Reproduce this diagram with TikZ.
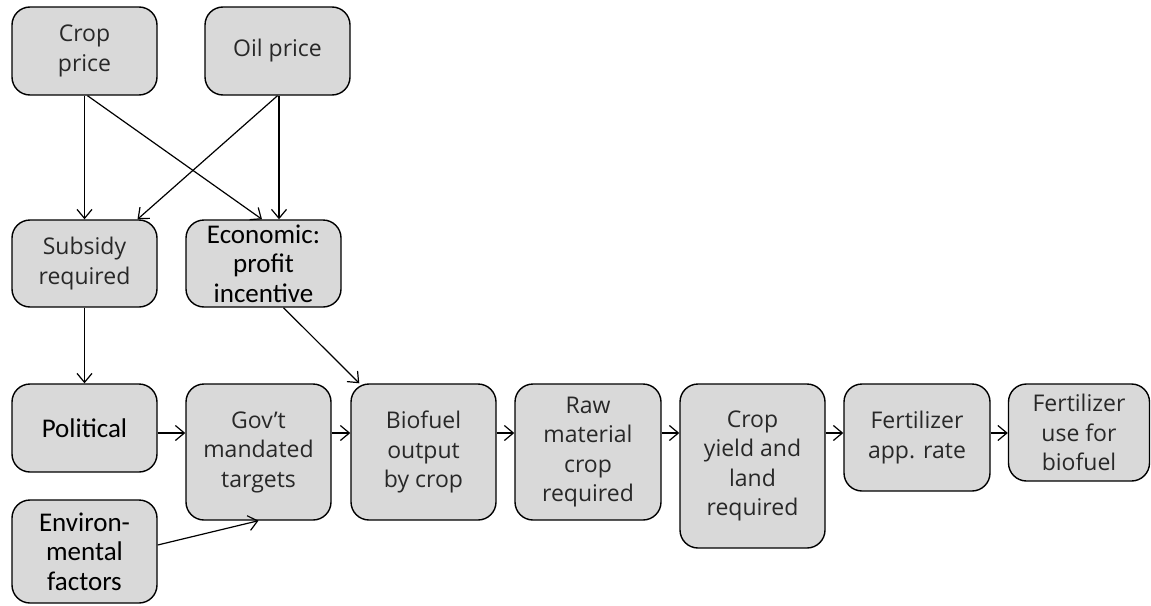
\documentclass[tikz,border=0pt]{standalone}
\usepackage{fontspec}
\usetikzlibrary{arrows.meta}
\newfontfamily\lightf{Open Sans}
\newfontfamily\darkf{Carlito}
\definecolor{boxfill}{RGB}{217,217,217}
\definecolor{lighttext}{RGB}{40,40,40}
\tikzset{
  box/.style={draw=black, line width=1.4pt, fill=boxfill, rounded corners=18pt,
    inner sep=0pt, align=center, anchor=center},
  lbox/.style={box, font=\lightf\fontsize{23}{29.5}\selectfont, text=lighttext},
  dbox/.style={box, font=\darkf\fontsize{27}{29.5}\selectfont, text=black},
  conn/.style={line width=1.2pt, -{Straight Barb[length=9pt,width=15pt,line width=1.2pt]}}
}
\begin{document}
\begin{tikzpicture}[x=1pt,y=-1pt]
\useasboundingbox (0,0) rectangle (1151,605);
\node[lbox, minimum width=145pt, minimum height=88pt] (crop) at (84.5,51) {Crop\\price};
\node[lbox, minimum width=145pt, minimum height=88pt] (oil) at (277.5,51) {Oil price};
\node[lbox, minimum width=145pt, minimum height=87pt] (sub) at (84.5,263.5) {Subsidy\\required};
\node[dbox, minimum width=155pt, minimum height=87pt] (econ) at (263.5,263.5) {Economic:\\profit\\incentive};
\node[dbox, minimum width=145pt, minimum height=88pt] (pol) at (84.5,428) {Political};
\node[dbox, minimum width=145pt, minimum height=103pt] (env) at (84.5,551.5) {Environ-\\mental\\factors};
\node[lbox, minimum width=145pt, minimum height=136pt] (gov) at (258.5,452) {Gov’t\\mandated\\targets};
\node[lbox, minimum width=145pt, minimum height=136pt] (bio) at (423.5,452) {Biofuel\\output\\by crop};
\node[lbox, minimum width=146pt, minimum height=136pt] (raw) at (588,452) {Raw\\material\\crop\\required};
\node[lbox, minimum width=145pt, minimum height=164pt] (cy) at (752.5,466) {Crop\\yield and\\land\\required};
\node[lbox, minimum width=146pt, minimum height=107pt] (fa) at (917,437.5) {Fertilizer\\app. rate};
\node[lbox, minimum width=141pt, minimum height=97pt] (fu) at (1079,432.5) {Fertilizer\\use for\\biofuel};
\coordinate (ay) at (0,433);
\draw[conn] (crop.south) -- (sub.north);
\draw[conn] ([xshift=3pt]crop.south) -- ([xshift=-1.5pt]econ.north);
\draw[conn] (oil.south) -- ([xshift=53pt]sub.north);
\draw[conn] ([xshift=1.5pt]oil.south) -- ([xshift=1.5pt]oil.south |- econ.north);
\draw[conn] (sub.south) -- (pol.north);
\draw[conn] ([xshift=20pt]econ.south) -- ([xshift=9pt]bio.north west);
\draw[conn] (pol.east |- ay) -- (gov.west |- ay);
\draw[conn] ([yshift=6.5pt]env.east) -- (gov.south);
\draw[conn] (gov.east |- ay) -- (bio.west |- ay);
\draw[conn] (bio.east |- ay) -- (raw.west |- ay);
\draw[conn] (raw.east |- ay) -- (cy.west |- ay);
\draw[conn] (cy.east |- ay) -- (fa.west |- ay);
\draw[conn] (fa.east |- ay) -- (fu.west |- ay);
\end{tikzpicture}
\end{document}
